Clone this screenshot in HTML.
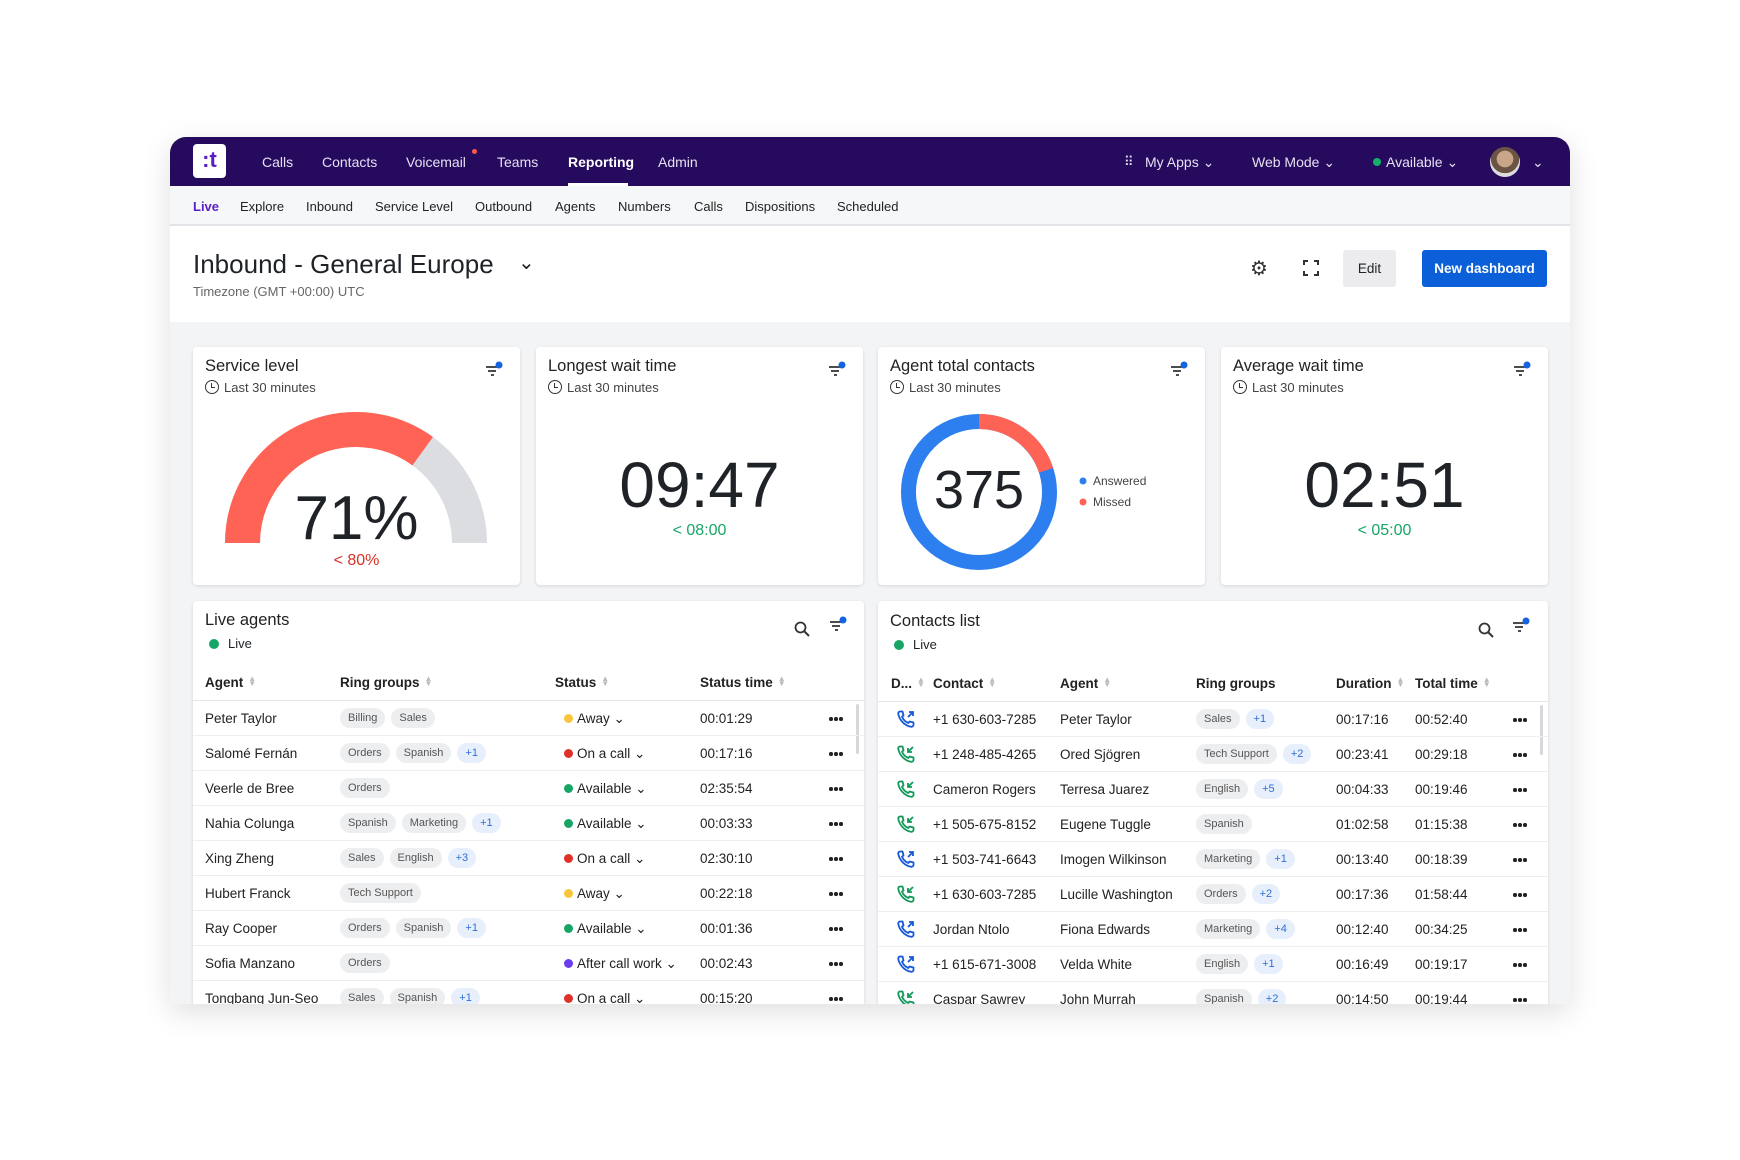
<!DOCTYPE html>
<html><head><meta charset="utf-8">
<style>
*{box-sizing:border-box;margin:0;padding:0}
body{width:1740px;height:1160px;background:#fff;font-family:"Liberation Sans",Arial,sans-serif;color:#1f2328;position:relative;overflow:hidden}
.abs{position:absolute}
#app{position:absolute;left:170px;top:137px;width:1400px;height:867px;border-radius:16px 16px 0 0;overflow:hidden;background:#f3f4f6;box-shadow:0 8px 30px rgba(0,0,0,.13)}
#nav{position:absolute;left:0;top:0;width:1400px;height:49px;background:#250a5e;color:#e6e0f2;font-size:14px}
#nav .i{position:absolute;top:17px}
#sub{position:absolute;left:0;top:49px;width:1400px;height:40px;background:#f6f7f8;border-bottom:2px solid #e1e3e6;font-size:13px;color:#222}
#sub span{position:absolute;top:13px}
#hdr{position:absolute;left:0;top:89px;width:1400px;height:96px;background:#fff}
.card{position:absolute;background:#fff;border-radius:4px;box-shadow:0 1px 3px rgba(0,0,0,.12)}
.ct{position:absolute;left:12px;top:10px;font-size:16.5px;color:#222}
.cs{position:absolute;left:12px;top:33px;font-size:13px;color:#444}
.clk{display:inline-block;width:14px;height:14px;border:1.6px solid #333;border-radius:50%;vertical-align:-2px;margin-right:5px;position:relative}
.clk:after{content:"";position:absolute;left:4.5px;top:2px;width:3px;height:4px;border-left:1.5px solid #333;border-bottom:1.5px solid #333}
.big{position:absolute;width:100%;text-align:center;font-size:64px;color:#1f2328;letter-spacing:0px}
.sub2{position:absolute;width:100%;text-align:center;font-size:16px}
.row{position:absolute;left:0;height:35px;border-bottom:1px solid #eceef0;font-size:13.5px;color:#222;width:100%}
.row>*{position:absolute;top:10px;white-space:nowrap}
.chip{display:inline-block;height:20px;line-height:20px;padding:0 8px;border-radius:10px;background:#edeef0;color:#555;font-size:11px;margin-right:6px;font-style:normal}
.chip.b{background:#e7effc;color:#2f6fd6}
.dot{width:9px;height:9px;border-radius:50%;top:13px!important}
.th{position:absolute;top:74px;font-size:13.5px;font-weight:bold;color:#222;white-space:nowrap}
.srt{display:inline-block;margin-left:5px;color:#bbb;font-size:8px;line-height:5px;vertical-align:1px}
.dd{width:3.5px;height:3.5px;border-radius:50%;background:#222;top:16px!important;box-shadow:5px 0 #222,10px 0 #222}
</style></head><body>
<div id="app">
 <div id="nav">
  <div class="abs" style="left:23px;top:7px;width:33px;height:34px;background:#fff;border-radius:4px;color:#5a1fc4;font-weight:bold;font-size:22px;text-align:center;line-height:32px">:t</div>
  <span class="i" style="left:92px">Calls</span>
  <span class="i" style="left:152px">Contacts</span>
  <span class="i" style="left:236px">Voicemail</span>
  <span class="abs" style="left:302px;top:12px;width:5px;height:5px;border-radius:50%;background:#ff5a4a"></span>
  <span class="i" style="left:327px">Teams</span>
  <span class="i" style="left:398px;color:#fff;font-weight:bold">Reporting</span>
  <span class="abs" style="left:398px;top:46px;width:60px;height:3px;background:#fff"></span>
  <span class="i" style="left:488px">Admin</span>
  <span class="i" style="left:954px;font-size:13px;letter-spacing:-1px">⠿</span>
  <span class="i" style="left:975px">My Apps ⌄</span>
  <span class="i" style="left:1082px">Web Mode ⌄</span>
  <span class="abs" style="left:1203px;top:21px;width:8px;height:8px;border-radius:50%;background:#14b06a"></span>
  <span class="i" style="left:1216px">Available ⌄</span>
  <span class="abs" style="left:1320px;top:10px;width:30px;height:30px;border-radius:50%;background:radial-gradient(circle at 50% 40%,#c9a58a 0 35%,#6b5444 36% 60%,#ddd 61%)"></span>
  <span class="i" style="left:1362px">⌄</span>
 </div>
 <div id="sub">
  <span style="left:23px;color:#5a1fc4;font-weight:bold">Live</span>
  <span style="left:70px">Explore</span><span style="left:136px">Inbound</span>
  <span style="left:205px">Service Level</span><span style="left:305px">Outbound</span>
  <span style="left:385px">Agents</span><span style="left:448px">Numbers</span>
  <span style="left:524px">Calls</span><span style="left:575px">Dispositions</span>
  <span style="left:667px">Scheduled</span>
 </div>
 <div id="hdr">
  <div class="abs" style="left:23px;top:23px;font-size:26px;color:#1f2328">Inbound - General Europe</div>
  <div class="abs" style="left:348px;top:24px;font-size:20px">⌄</div>
  <div class="abs" style="left:23px;top:58px;font-size:13px;color:#666">Timezone (GMT +00:00) UTC</div>
  <div class="abs" style="left:1080px;top:30px;font-size:20px;color:#333">⚙</div>
  <svg class="abs" style="left:1133px;top:34px" width="16" height="16"><path d="M1 5V1H5M11 1H15V5M15 11V15H11M5 15H1V11" fill="none" stroke="#333" stroke-width="2"/></svg>
  <div class="abs" style="left:1173px;top:24px;width:53px;height:37px;background:#ececee;border-radius:3px;font-size:13.5px;text-align:center;line-height:37px">Edit</div>
  <div class="abs" style="left:1252px;top:24px;width:125px;height:37px;background:#0b5fd8;border-radius:3px;color:#fff;font-size:13.5px;text-align:center;line-height:37px;font-weight:bold">New dashboard</div>
 </div>

 <div class="card" style="left:23px;top:210px;width:327px;height:238px">
  <div class="ct">Service level</div><div class="cs"><span class="clk"></span>Last 30 minutes</div>
  <svg class="abs" style="left:292px;top:14px" width="20" height="16"><path d="M1 6H12M3 10H11M6 14H9" stroke="#333" stroke-width="1.8"/><circle cx="14" cy="4" r="3.5" fill="#1463e0"/></svg>
  <svg class="abs" style="left:0;top:0" width="327" height="238">
   <path d="M49.5 196A113.5 113.5 0 0 1 276.5 196" fill="none" stroke="#dcdde0" stroke-width="35"/>
   <path d="M49.5 196A113.5 113.5 0 0 1 229.7 104.2" fill="none" stroke="#ff6355" stroke-width="35"/>
  </svg>
  <div class="big" style="top:136px;font-size:62px">71%</div>
  <div class="sub2" style="top:205px;color:#d93025">&lt; 80%</div>
 </div>
 <div class="card" style="left:366px;top:210px;width:327px;height:238px">
  <div class="ct">Longest wait time</div><div class="cs"><span class="clk"></span>Last 30 minutes</div>
  <svg class="abs" style="left:292px;top:14px" width="20" height="16"><path d="M1 6H12M3 10H11M6 14H9" stroke="#333" stroke-width="1.8"/><circle cx="14" cy="4" r="3.5" fill="#1463e0"/></svg>
  <div class="big" style="top:101px">09:47</div>
  <div class="sub2" style="top:175px;color:#17a566">&lt; 08:00</div>
 </div>
 <div class="card" style="left:708px;top:210px;width:327px;height:238px">
  <div class="ct">Agent total contacts</div><div class="cs"><span class="clk"></span>Last 30 minutes</div>
  <svg class="abs" style="left:292px;top:14px" width="20" height="16"><path d="M1 6H12M3 10H11M6 14H9" stroke="#333" stroke-width="1.8"/><circle cx="14" cy="4" r="3.5" fill="#1463e0"/></svg>
  <svg class="abs" style="left:0;top:0" width="327" height="238">
   <circle cx="101" cy="145" r="70.5" fill="none" stroke="#2d7ff0" stroke-width="15"/>
   <circle cx="101" cy="145" r="70.5" fill="none" stroke="#ff6355" stroke-width="15" stroke-dasharray="88.6 400" transform="rotate(-90 101 145)"/>
   <circle cx="205" cy="134" r="3.5" fill="#2d7ff0"/><circle cx="205" cy="155" r="3.5" fill="#ff6355"/>
  </svg>
  <div class="abs" style="left:215px;top:127px;font-size:12px;color:#444">Answered</div>
  <div class="abs" style="left:215px;top:148px;font-size:12px;color:#444">Missed</div>
  <div class="abs" style="left:31px;top:112px;width:140px;text-align:center;font-size:54px">375</div>
 </div>
 <div class="card" style="left:1051px;top:210px;width:327px;height:238px">
  <div class="ct">Average wait time</div><div class="cs"><span class="clk"></span>Last 30 minutes</div>
  <svg class="abs" style="left:292px;top:14px" width="20" height="16"><path d="M1 6H12M3 10H11M6 14H9" stroke="#333" stroke-width="1.8"/><circle cx="14" cy="4" r="3.5" fill="#1463e0"/></svg>
  <div class="big" style="top:101px">02:51</div>
  <div class="sub2" style="top:175px;color:#17a566">&lt; 05:00</div>
 </div>

 <div class="card" style="left:23px;top:464px;width:671px;height:420px;overflow:hidden">
  <div class="ct" style="top:10px">Live agents</div>
  <div class="abs" style="left:16px;top:38px;width:10px;height:10px;border-radius:50%;background:#17a566"></div>
  <div class="abs" style="left:35px;top:35px;font-size:13px">Live</div>
  <svg class="abs" style="left:601px;top:20px" width="16" height="16"><circle cx="6.5" cy="6.5" r="5" fill="none" stroke="#333" stroke-width="1.8"/><path d="M10 10L15 15" stroke="#333" stroke-width="2"/></svg>
  <svg class="abs" style="left:636px;top:15px" width="20" height="16"><path d="M1 6H12M3 10H11M6 14H9" stroke="#333" stroke-width="1.8"/><circle cx="14" cy="4" r="3.5" fill="#1463e0"/></svg>
  <div class="th" style="left:12px">Agent<span class="srt">▲<br>▼</span></div>
  <div class="th" style="left:147px">Ring groups<span class="srt">▲<br>▼</span></div>
  <div class="th" style="left:362px">Status<span class="srt">▲<br>▼</span></div>
  <div class="th" style="left:507px">Status time<span class="srt">▲<br>▼</span></div>
  <div class="abs" style="left:0;top:99px;width:100%;height:1px;background:#e4e6e8"></div>
  <div class="abs" style="left:663px;top:103px;width:3px;height:50px;background:#d6d8db;border-radius:2px"></div>
  <div style="position:absolute;left:0;top:100px;width:100%">
   <div class="row" style="top:0"><span style="left:12px">Peter Taylor</span><span style="left:147px;top:7px"><i class="chip">Billing</i><i class="chip">Sales</i></span><i class="dot" style="left:371px;background:#f9c53a"></i><span style="left:384px">Away ⌄</span><span style="left:507px">00:01:29</span><b class="dd" style="left:636px"></b></div>
   <div class="row" style="top:35px"><span style="left:12px">Salomé Fernán</span><span style="left:147px;top:7px"><i class="chip">Orders</i><i class="chip">Spanish</i><i class="chip b">+1</i></span><i class="dot" style="left:371px;background:#e0302a"></i><span style="left:384px">On a call ⌄</span><span style="left:507px">00:17:16</span><b class="dd" style="left:636px"></b></div>
   <div class="row" style="top:70px"><span style="left:12px">Veerle de Bree</span><span style="left:147px;top:7px"><i class="chip">Orders</i></span><i class="dot" style="left:371px;background:#17a566"></i><span style="left:384px">Available ⌄</span><span style="left:507px">02:35:54</span><b class="dd" style="left:636px"></b></div>
   <div class="row" style="top:105px"><span style="left:12px">Nahia Colunga</span><span style="left:147px;top:7px"><i class="chip">Spanish</i><i class="chip">Marketing</i><i class="chip b">+1</i></span><i class="dot" style="left:371px;background:#17a566"></i><span style="left:384px">Available ⌄</span><span style="left:507px">00:03:33</span><b class="dd" style="left:636px"></b></div>
   <div class="row" style="top:140px"><span style="left:12px">Xing Zheng</span><span style="left:147px;top:7px"><i class="chip">Sales</i><i class="chip">English</i><i class="chip b">+3</i></span><i class="dot" style="left:371px;background:#e0302a"></i><span style="left:384px">On a call ⌄</span><span style="left:507px">02:30:10</span><b class="dd" style="left:636px"></b></div>
   <div class="row" style="top:175px"><span style="left:12px">Hubert Franck</span><span style="left:147px;top:7px"><i class="chip">Tech Support</i></span><i class="dot" style="left:371px;background:#f9c53a"></i><span style="left:384px">Away ⌄</span><span style="left:507px">00:22:18</span><b class="dd" style="left:636px"></b></div>
   <div class="row" style="top:210px"><span style="left:12px">Ray Cooper</span><span style="left:147px;top:7px"><i class="chip">Orders</i><i class="chip">Spanish</i><i class="chip b">+1</i></span><i class="dot" style="left:371px;background:#17a566"></i><span style="left:384px">Available ⌄</span><span style="left:507px">00:01:36</span><b class="dd" style="left:636px"></b></div>
   <div class="row" style="top:245px"><span style="left:12px">Sofia Manzano</span><span style="left:147px;top:7px"><i class="chip">Orders</i></span><i class="dot" style="left:371px;background:#6a3ef0"></i><span style="left:384px">After call work ⌄</span><span style="left:507px">00:02:43</span><b class="dd" style="left:636px"></b></div>
   <div class="row" style="top:280px"><span style="left:12px">Tongbang Jun-Seo</span><span style="left:147px;top:7px"><i class="chip">Sales</i><i class="chip">Spanish</i><i class="chip b">+1</i></span><i class="dot" style="left:371px;background:#e0302a"></i><span style="left:384px">On a call ⌄</span><span style="left:507px">00:15:20</span><b class="dd" style="left:636px"></b></div>
  </div>
 </div>

 <div class="card" style="left:708px;top:464px;width:670px;height:420px;overflow:hidden">
  <div class="ct" style="top:11px">Contacts list</div>
  <div class="abs" style="left:16px;top:39px;width:10px;height:10px;border-radius:50%;background:#17a566"></div>
  <div class="abs" style="left:35px;top:36px;font-size:13px">Live</div>
  <svg class="abs" style="left:600px;top:21px" width="16" height="16"><circle cx="6.5" cy="6.5" r="5" fill="none" stroke="#333" stroke-width="1.8"/><path d="M10 10L15 15" stroke="#333" stroke-width="2"/></svg>
  <svg class="abs" style="left:634px;top:16px" width="20" height="16"><path d="M1 6H12M3 10H11M6 14H9" stroke="#333" stroke-width="1.8"/><circle cx="14" cy="4" r="3.5" fill="#1463e0"/></svg>
  <div class="th" style="left:13px;top:75px">D...<span class="srt">▲<br>▼</span></div>
  <div class="th" style="left:55px;top:75px">Contact<span class="srt">▲<br>▼</span></div>
  <div class="th" style="left:182px;top:75px">Agent<span class="srt">▲<br>▼</span></div>
  <div class="th" style="left:318px;top:75px">Ring groups</div>
  <div class="th" style="left:458px;top:75px">Duration<span class="srt">▲<br>▼</span></div>
  <div class="th" style="left:537px;top:75px">Total time<span class="srt">▲<br>▼</span></div>
  <div class="abs" style="left:0;top:100px;width:100%;height:1px;background:#e4e6e8"></div>
  <div class="abs" style="left:662px;top:104px;width:3px;height:50px;background:#d6d8db;border-radius:2px"></div>
  <svg width="0" height="0" style="position:absolute"><defs>
   <symbol id="ph" viewBox="0 0 18 18"><path d="M3 1.5C2 1.5 1 2.6 1.3 4C2.4 10 7.6 15.6 14 16.8C15.4 17 16.5 16 16.5 15L16.5 12.5L12.6 11.5L11.3 13C8.6 11.8 6.2 9.4 5 6.7L6.5 5.4L5.5 1.5Z" fill="none" stroke="currentColor" stroke-width="1.8" stroke-linejoin="round"/></symbol>
  </defs></svg>
  <div style="position:absolute;left:0;top:101px;width:100%">
   <div class="row" style="top:0"><svg style="left:19px;top:8px;color:#1557d8" width="18" height="18"><use href="#ph"/><path d="M11 7L16 2M12 2H16V6" stroke="#1557d8" stroke-width="1.8" fill="none"/></svg><span style="left:55px">+1 630-603-7285</span><span style="left:182px">Peter Taylor</span><span style="left:318px;top:7px"><i class="chip">Sales</i><i class="chip b">+1</i></span><span style="left:458px">00:17:16</span><span style="left:537px">00:52:40</span><b class="dd" style="left:635px"></b></div>
   <div class="row" style="top:35px"><svg style="left:19px;top:8px;color:#12995a" width="18" height="18"><use href="#ph"/><path d="M16 2L11 7M11 3V7H15" stroke="#12995a" stroke-width="1.8" fill="none"/></svg><span style="left:55px">+1 248-485-4265</span><span style="left:182px">Ored Sjögren</span><span style="left:318px;top:7px"><i class="chip">Tech Support</i><i class="chip b">+2</i></span><span style="left:458px">00:23:41</span><span style="left:537px">00:29:18</span><b class="dd" style="left:635px"></b></div>
   <div class="row" style="top:70px"><svg style="left:19px;top:8px;color:#12995a" width="18" height="18"><use href="#ph"/><path d="M16 2L11 7M11 3V7H15" stroke="#12995a" stroke-width="1.8" fill="none"/></svg><span style="left:55px">Cameron Rogers</span><span style="left:182px">Terresa Juarez</span><span style="left:318px;top:7px"><i class="chip">English</i><i class="chip b">+5</i></span><span style="left:458px">00:04:33</span><span style="left:537px">00:19:46</span><b class="dd" style="left:635px"></b></div>
   <div class="row" style="top:105px"><svg style="left:19px;top:8px;color:#12995a" width="18" height="18"><use href="#ph"/><path d="M16 2L11 7M11 3V7H15" stroke="#12995a" stroke-width="1.8" fill="none"/></svg><span style="left:55px">+1 505-675-8152</span><span style="left:182px">Eugene Tuggle</span><span style="left:318px;top:7px"><i class="chip">Spanish</i></span><span style="left:458px">01:02:58</span><span style="left:537px">01:15:38</span><b class="dd" style="left:635px"></b></div>
   <div class="row" style="top:140px"><svg style="left:19px;top:8px;color:#1557d8" width="18" height="18"><use href="#ph"/><path d="M11 7L16 2M12 2H16V6" stroke="#1557d8" stroke-width="1.8" fill="none"/></svg><span style="left:55px">+1 503-741-6643</span><span style="left:182px">Imogen Wilkinson</span><span style="left:318px;top:7px"><i class="chip">Marketing</i><i class="chip b">+1</i></span><span style="left:458px">00:13:40</span><span style="left:537px">00:18:39</span><b class="dd" style="left:635px"></b></div>
   <div class="row" style="top:175px"><svg style="left:19px;top:8px;color:#12995a" width="18" height="18"><use href="#ph"/><path d="M16 2L11 7M11 3V7H15" stroke="#12995a" stroke-width="1.8" fill="none"/></svg><span style="left:55px">+1 630-603-7285</span><span style="left:182px">Lucille Washington</span><span style="left:318px;top:7px"><i class="chip">Orders</i><i class="chip b">+2</i></span><span style="left:458px">00:17:36</span><span style="left:537px">01:58:44</span><b class="dd" style="left:635px"></b></div>
   <div class="row" style="top:210px"><svg style="left:19px;top:8px;color:#1557d8" width="18" height="18"><use href="#ph"/><path d="M11 7L16 2M12 2H16V6" stroke="#1557d8" stroke-width="1.8" fill="none"/></svg><span style="left:55px">Jordan Ntolo</span><span style="left:182px">Fiona Edwards</span><span style="left:318px;top:7px"><i class="chip">Marketing</i><i class="chip b">+4</i></span><span style="left:458px">00:12:40</span><span style="left:537px">00:34:25</span><b class="dd" style="left:635px"></b></div>
   <div class="row" style="top:245px"><svg style="left:19px;top:8px;color:#1557d8" width="18" height="18"><use href="#ph"/><path d="M11 7L16 2M12 2H16V6" stroke="#1557d8" stroke-width="1.8" fill="none"/></svg><span style="left:55px">+1 615-671-3008</span><span style="left:182px">Velda White</span><span style="left:318px;top:7px"><i class="chip">English</i><i class="chip b">+1</i></span><span style="left:458px">00:16:49</span><span style="left:537px">00:19:17</span><b class="dd" style="left:635px"></b></div>
   <div class="row" style="top:280px"><svg style="left:19px;top:8px;color:#12995a" width="18" height="18"><use href="#ph"/><path d="M16 2L11 7M11 3V7H15" stroke="#12995a" stroke-width="1.8" fill="none"/></svg><span style="left:55px">Caspar Sawrey</span><span style="left:182px">John Murrah</span><span style="left:318px;top:7px"><i class="chip">Spanish</i><i class="chip b">+2</i></span><span style="left:458px">00:14:50</span><span style="left:537px">00:19:44</span><b class="dd" style="left:635px"></b></div>
  </div>
 </div>
</div>
</body></html>
